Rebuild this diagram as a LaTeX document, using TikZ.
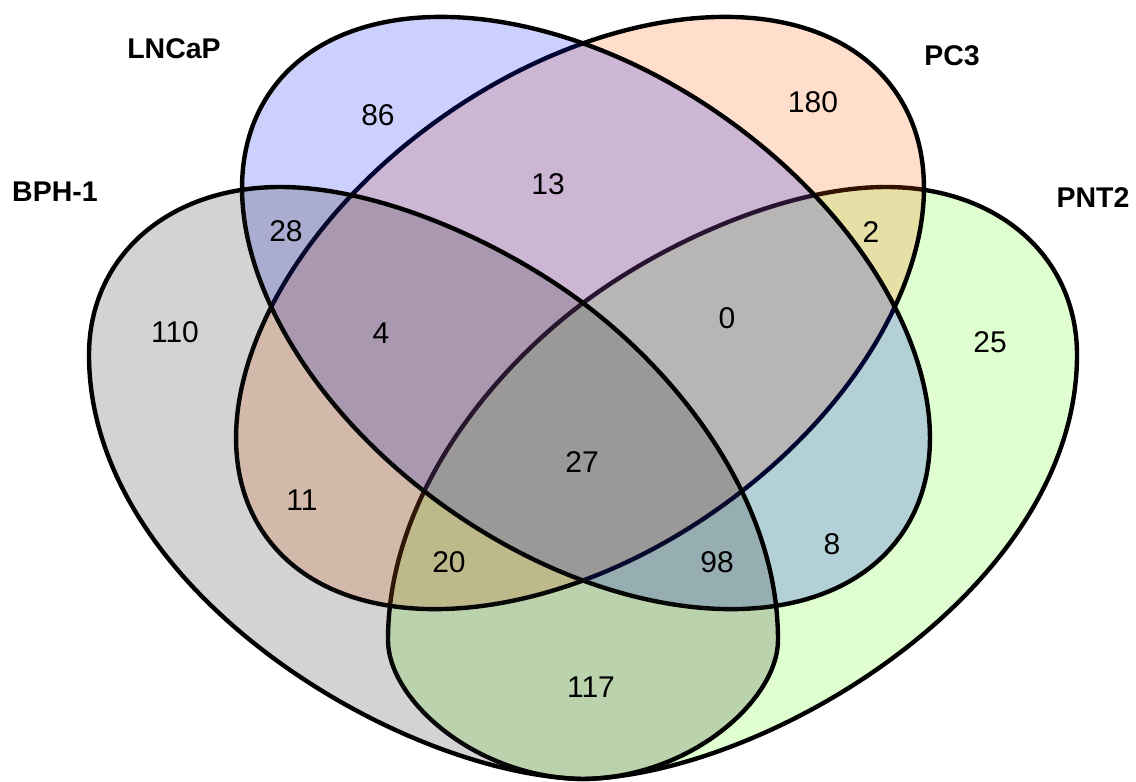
\documentclass[tikz,border=0pt]{standalone}
\usepackage{fontspec}
\setmainfont{Liberation Sans}
\definecolor{cgreen}{RGB}{100,255,20}
\definecolor{corange}{RGB}{255,95,0}
\definecolor{cblue}{RGB}{0,20,240}
\definecolor{cgray}{RGB}{35,35,35}
\begin{document}
\begin{tikzpicture}[x=1pt,y=-1pt,
  setshape/.style={line width=4.4pt, draw=black, fill opacity=0.2, line join=round},
  num/.style={font=\fontsize{30}{36}\selectfont, inner sep=0pt, text=black},
  setname/.style={font=\fontsize{28.5}{34}\selectfont\bfseries, inner sep=0pt, text=black}]
\useasboundingbox (0,0) rectangle (1136,782);
% PNT2 (green teardrop, mirror of BPH-1 about x=583)
\filldraw[setshape, fill=cgreen]
  (583,779) .. controls (476,778) and (388,700) .. (388,640)
  .. controls (388,500) and (487,375) .. (583,303)
  .. controls (663,243) and (786,187) .. (886,187)
  .. controls (996,187) and (1077,255) .. (1077,355)
  .. controls (1077,590) and (766,775) .. (583,779) -- cycle;
% PC3 (orange ellipse)
\filldraw[setshape, fill=corange, rotate around={35.2:(580,313)}]
  (580,313) ellipse [x radius=385.4, y radius=239.6];
% LNCaP (blue ellipse)
\filldraw[setshape, fill=cblue, rotate around={-35.2:(586,313)}]
  (586,313) ellipse [x radius=385.4, y radius=239.6];
% BPH-1 (gray teardrop)
\filldraw[setshape, fill=cgray]
  (583,779) .. controls (690,778) and (778,700) .. (778,640)
  .. controls (778,500) and (679,375) .. (583,303)
  .. controls (503,243) and (380,187) .. (280,187)
  .. controls (170,187) and (89,255) .. (89,355)
  .. controls (89,590) and (400,775) .. (583,779) -- cycle;
% set names
\node[setname] (lncap) at (174,49) {LNCaP};
\node[setname] (pc3) at (952,56) {PC3};
\node[setname] (bph) at (55,192) {BPH-1};
\node[setname] (pnt) at (1093,198) {PNT2};
% counts
\node[num] (n86) at (378,115) {86};
\node[num] (n180) at (813,102) {180};
\node[num] (n13) at (548,184) {13};
\node[num] (n28) at (286,231) {28};
\node[num] (n2) at (871,232) {2};
\node[num] (n110) at (175,332) {110};
\node[num] (n4) at (381,333) {4};
\node[num] (n0) at (727,318) {0};
\node[num] (n25) at (990,342) {25};
\node[num] (n27) at (582,462) {27};
\node[num] (n11) at (302,500) {11};
\node[num] (n8) at (832,544) {8};
\node[num] (n20) at (449,562) {20};
\node[num] (n98) at (717,562) {98};
\node[num] (n117) at (591,687) {117};
\end{tikzpicture}
\end{document}
